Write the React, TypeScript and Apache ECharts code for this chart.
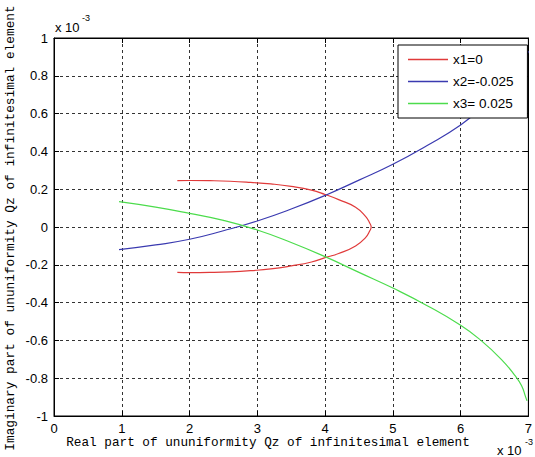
import React, { useEffect, useRef } from "react";
import * as echarts from "echarts";

const seriesNames = ["x1=0", "x2=-0.025", "x3= 0.025"];
const seriesColors = ["#e03a3a", "#3a3ab0", "#4cdc4c"];

// x1 = 0 (red, closed-looking curve)
const redX = [1.82, 2.0, 2.3, 2.6, 2.9, 3.2, 3.5, 3.8, 4.0, 4.2, 4.45, 4.6, 4.66, 4.68, 4.66, 4.6, 4.45, 4.2, 4.0, 3.8, 3.5, 3.2, 2.9, 2.6, 2.3, 2.0, 1.82];
const redY = [0.245, 0.246, 0.245, 0.242, 0.236, 0.228, 0.215, 0.195, 0.172, 0.145, 0.105, 0.055, 0.02, 0.0, -0.02, -0.055, -0.1, -0.14, -0.162, -0.185, -0.206, -0.222, -0.231, -0.237, -0.24, -0.241, -0.24];

// x2 = -0.025 (blue)
const blueX = [0.96, 1.5, 2.0, 2.5, 3.0, 3.5, 4.0, 4.5, 5.0, 5.5, 6.0, 6.3, 6.6, 6.8, 6.9, 6.96, 7.0];
const blueY = [-0.12, -0.095, -0.065, -0.02, 0.032, 0.095, 0.167, 0.248, 0.332, 0.43, 0.54, 0.63, 0.74, 0.83, 0.87, 0.9, 0.93];

// x3 = 0.025 (green)
const greenX = [0.96, 1.5, 2.0, 2.5, 3.0, 3.5, 4.0, 4.5, 5.0, 5.5, 6.0, 6.3, 6.6, 6.8, 6.9, 6.96, 6.98];
const greenY = [0.134, 0.105, 0.072, 0.035, -0.016, -0.082, -0.157, -0.24, -0.323, -0.415, -0.52, -0.6, -0.7, -0.785, -0.84, -0.9, -0.92];

const xTicks = [0, 1, 2, 3, 4, 5, 6, 7];
const yTicks = [-1, -0.8, -0.6, -0.4, -0.2, 0, 0.2, 0.4, 0.6, 0.8, 1];

const xTitle = "Real part of ununiformity Qz of infinitesimal element";
const yTitle = "Imaginary part of ununiformity Qz of infinitesimal element";
const expBase = "x 10";
const expPow = "-3";

const zip = (xs: number[], ys: number[]) => xs.map((x, i) => [x, ys[i]]);

export default function App() {
  const ref = useRef<HTMLDivElement>(null);
  useEffect(() => {
    if (!ref.current) return;
    const chart = echarts.init(ref.current, undefined, { renderer: "svg" });
    const sans = "Liberation Sans, Arial, sans-serif";
    const mono = "Liberation Mono, Courier New, monospace";
    const tickFont = { color: "#000", fontSize: 13, fontFamily: sans };
    const split = { show: true, lineStyle: { type: [3, 3] as any, color: "#333", width: 1 } };
    const axisLine = { show: true, onZero: false, lineStyle: { color: "#000", width: 1 } };
    const tick = { show: true, inside: true, length: 5, lineStyle: { color: "#000" } };
    const datas = [zip(redX, redY), zip(blueX, blueY), zip(greenX, greenY)];
    chart.setOption({
      animation: false,
      grid: { left: 54, right: 2, top: 38, bottom: 41, show: true, borderColor: "#000", borderWidth: 1, backgroundColor: "#fff" },
      xAxis: [
        {
          type: "value", min: xTicks[0], max: xTicks[xTicks.length - 1], interval: 1,
          axisLine, axisTick: tick,
          axisLabel: { ...tickFont, margin: 6 },
          splitLine: split,
        },
        {
          type: "value", position: "top", min: xTicks[0], max: xTicks[xTicks.length - 1], interval: 1,
          axisLine, axisTick: tick, axisLabel: { show: false }, splitLine: { show: false },
        },
      ],
      yAxis: [
        {
          type: "value", min: yTicks[0], max: yTicks[yTicks.length - 1], interval: 0.2,
          axisLine, axisTick: tick,
          axisLabel: { ...tickFont, margin: 6, formatter: (v: number) => String(Math.round(v * 10) / 10) },
          splitLine: split,
        },
        {
          type: "value", position: "right", min: yTicks[0], max: yTicks[yTicks.length - 1], interval: 0.2,
          axisLine, axisTick: tick, axisLabel: { show: false }, splitLine: { show: false },
        },
      ],
      legend: {
        orient: "vertical", left: 398, top: 45,
        backgroundColor: "#fff", borderColor: "#000", borderWidth: 1, borderRadius: 0,
        padding: [7, 14, 7, 10], itemGap: 7, itemWidth: 40, itemHeight: 1.5,
        icon: "rect",
        textStyle: { fontSize: 13.5, lineHeight: 15, color: "#000", fontFamily: sans },
        data: seriesNames,
      },
      series: seriesNames.map((name, i) => ({
        name, type: "line", xAxisIndex: 0, yAxisIndex: 0,
        data: datas[i], symbol: "none", smooth: true,
        color: seriesColors[i],
        lineStyle: { color: seriesColors[i], width: 1.2 },
      })),
      graphic: [
        { type: "text", left: 55, top: 21, style: { text: expBase, fontSize: 13, fontFamily: sans, fill: "#000" } },
        { type: "text", left: 82, top: 13, style: { text: expPow, fontSize: 9, fontFamily: sans, fill: "#000" } },
        { type: "text", left: 497, top: 444, style: { text: expBase, fontSize: 13, fontFamily: sans, fill: "#000" } },
        { type: "text", left: 525, top: 437, style: { text: expPow, fontSize: 9, fontFamily: sans, fill: "#000" } },
        { type: "text", x: 268, y: 442, style: { text: xTitle, fontSize: 12.7, fontFamily: mono, fill: "#000", align: "center", verticalAlign: "middle" } },
        { type: "text", x: 10, y: 228, rotation: Math.PI / 2, style: { text: yTitle, fontSize: 12.8, fontFamily: mono, fill: "#000", align: "center", verticalAlign: "middle" } },
      ],
    });
    return () => chart.dispose();
  }, []);
  return <div ref={ref} style={{ position: "absolute", left: 0, top: 0, width: 535, height: 457 }} />;
}
